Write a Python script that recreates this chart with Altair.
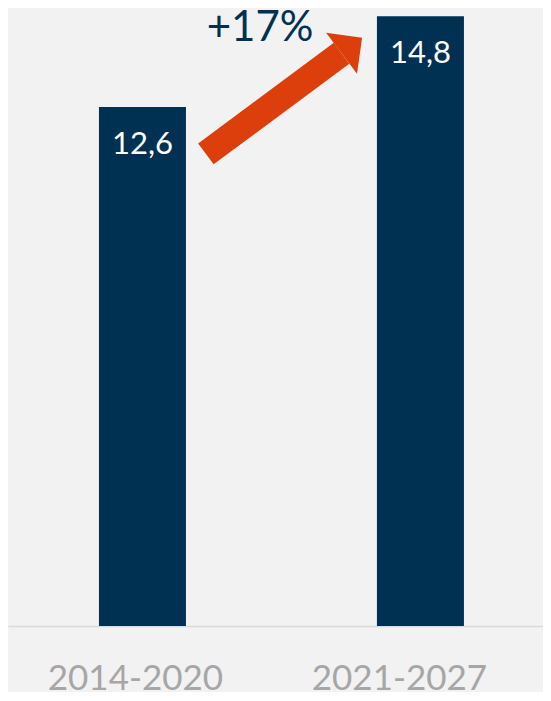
import altair as alt
import pandas as pd

# ---- data ----
periods = ["2014-2020", "2021-2027"]
values = [12.6, 14.8]
value_labels = ["12,6", "14,8"]

# growth arrow annotation, in data units (x: category index, y: value units)
arrow_x = [0.228, 0.716]
arrow_y = [11.46, 13.90]
change_label = ["+17%"]
change_x = [0.423]
change_y = [14.2]

NAVY = "#003153"
ORANGE = "#DC3F0B"
GREY = "#A6A6A6"

bars_df = pd.DataFrame({"period": periods, "value": values, "label": value_labels,
                        "base": [0, 0]})
arrow_df = pd.DataFrame({"i": arrow_x, "v": arrow_y, "order": [0, 1]})
head_df = pd.DataFrame({"i": arrow_x[-1:], "v": arrow_y[-1:]})
pct_df = pd.DataFrame({"i": change_x, "v": change_y, "t": change_label})

yscale = alt.Scale(domain=[0, 15], nice=False, zero=True)
xband = alt.Scale(type="band", domain=periods, paddingInner=0.687,
                  paddingOuter=0.3058, align=0.535)
xq = alt.Scale(domain=[-0.4838, 1.4406], nice=False, zero=False)

bars = alt.Chart(bars_df).mark_bar(color=NAVY).encode(
    x=alt.X("period:N", scale=xband, sort=periods,
            axis=alt.Axis(title=None, labels=False, ticks=False,
                          domainColor="#D9D9D9", domainWidth=1.5, grid=False)),
    y=alt.Y("value:Q", scale=yscale, axis=None),
)


def cat_label(period, dx):
    return alt.Chart(bars_df).transform_filter(
        alt.datum.period == period
    ).mark_text(
        color=GREY, font="Lato", fontSize=35, baseline="alphabetic", dy=64, dx=dx
    ).encode(
        x=alt.X("period:N", scale=xband, sort=periods, axis=None),
        y=alt.Y("base:Q", scale=yscale, axis=None),
        text="period:N",
    )


cats1 = cat_label(periods[0], -7)
cats2 = cat_label(periods[1], -21)

vals = alt.Chart(bars_df).mark_text(
    color="white", font="Lato", fontSize=31, baseline="alphabetic", dy=47
).encode(
    x=alt.X("period:N", scale=xband, sort=periods, axis=None),
    y=alt.Y("value:Q", scale=yscale, axis=None),
    text="label:N",
)

shaft = alt.Chart(arrow_df).mark_line(
    color=ORANGE, strokeWidth=26, strokeCap="butt"
).encode(
    x=alt.X("i:Q", scale=xq, axis=None),
    y=alt.Y("v:Q", scale=yscale, axis=None),
    order="order:Q",
)

head = alt.Chart(head_df).mark_point(
    shape="M0,-1L1,0L0,1Z", size=2642, filled=True, color=ORANGE,
    opacity=1, strokeWidth=0, angle=323
).encode(
    x=alt.X("i:Q", scale=xq, axis=None),
    y=alt.Y("v:Q", scale=yscale, axis=None),
)

pct = alt.Chart(pct_df).mark_text(
    color=NAVY, font="Lato", fontSize=42, baseline="alphabetic", align="center"
).encode(
    x=alt.X("i:Q", scale=xq, axis=None),
    y=alt.Y("v:Q", scale=yscale, axis=None),
    text="t:N",
)

chart = alt.layer(bars, cats1, cats2, vals, shaft, head, pct).resolve_scale(
    x="independent"
).properties(
    width=535, height=618,
    background="#F2F2F2",
    autosize=alt.AutoSizeParams(type="none"),
    padding={"left": 0, "top": 0, "right": 0, "bottom": 66},
).configure_view(stroke=None)

chart.save("out.html", embed_options={"renderer": "svg", "actions": False})
